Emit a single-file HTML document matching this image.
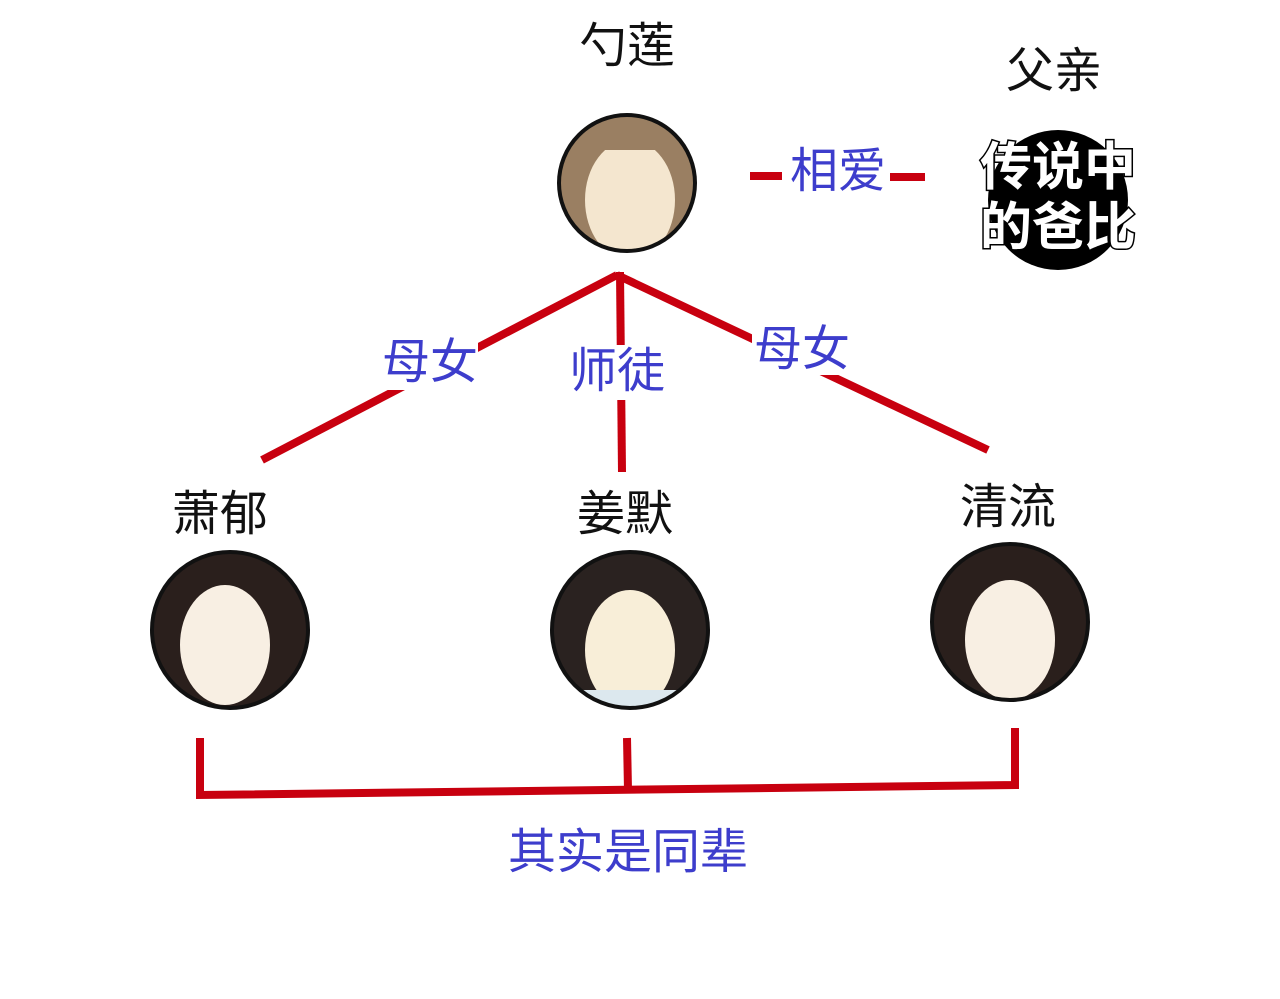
<!DOCTYPE html>
<html><head><meta charset="utf-8"><style>
html,body{margin:0;padding:0;background:#fff;width:1280px;height:999px;overflow:hidden;position:relative;font-family:"Liberation Sans","Noto Sans CJK SC",sans-serif}
.t{position:absolute;white-space:nowrap;transform:translate(-50%,-50%);line-height:1}
.k{color:#111;font-size:48px}
.b{color:#3d3dcc;font-size:48px}
</style></head><body>
<svg width="1280" height="999" style="position:absolute;left:0;top:0">
<g stroke="#c8000f" stroke-width="8" fill="none" stroke-linecap="butt">
<line x1="617" y1="275" x2="262" y2="460"/>
<line x1="620" y1="272" x2="622" y2="472"/>
<line x1="617" y1="275" x2="988" y2="450"/>
<line x1="750" y1="176" x2="782" y2="176"/>
<line x1="890" y1="177" x2="925" y2="177"/>
<polyline points="200,738 200,795 1015,785 1015,728"/>
<line x1="627" y1="738" x2="628" y2="790"/>
</g>
<rect x="790" y="145" width="95" height="60" fill="#fff"/>
<rect x="378" y="340" width="100" height="50" fill="#fff"/>
<rect x="565" y="345" width="105" height="55" fill="#fff"/>
<rect x="752" y="325" width="100" height="50" fill="#fff"/>
<defs>
<clipPath id="c1"><circle cx="627" cy="183" r="68"/></clipPath>
<clipPath id="c2"><circle cx="230" cy="630" r="78"/></clipPath>
<clipPath id="c3"><circle cx="630" cy="630" r="78"/></clipPath>
<clipPath id="c4"><circle cx="1010" cy="622" r="78"/></clipPath>
</defs>
<g clip-path="url(#c1)">
<rect x="550" y="110" width="160" height="150" fill="#9a7f62"/>
<ellipse cx="630" cy="200" rx="45" ry="60" fill="#f4e6cf"/>
<rect x="580" y="110" width="100" height="40" fill="#9a7f62"/>
</g>
<circle cx="627" cy="183" r="68" fill="none" stroke="#111" stroke-width="4"/>
<g clip-path="url(#c2)">
<rect x="150" y="550" width="160" height="160" fill="#2a1f1c"/>
<ellipse cx="225" cy="645" rx="45" ry="60" fill="#f8efe3"/>
</g>
<circle cx="230" cy="630" r="78" fill="none" stroke="#111" stroke-width="4"/>
<g clip-path="url(#c3)">
<rect x="550" y="550" width="160" height="160" fill="#2a2220"/>
<ellipse cx="630" cy="650" rx="45" ry="60" fill="#f8eed8"/>
<rect x="580" y="690" width="100" height="40" fill="#dce8ee"/>
</g>
<circle cx="630" cy="630" r="78" fill="none" stroke="#111" stroke-width="4"/>
<g clip-path="url(#c4)">
<rect x="930" y="540" width="160" height="160" fill="#2a1f1c"/>
<ellipse cx="1010" cy="640" rx="45" ry="60" fill="#f8efe3"/>
</g>
<circle cx="1010" cy="622" r="78" fill="none" stroke="#111" stroke-width="4"/>
<circle cx="1058" cy="200" r="70" fill="#000"/>
<g font-family="Liberation Sans,Noto Sans CJK SC,sans-serif" font-size="52" font-weight="bold" text-anchor="middle" fill="#fff" stroke="#000" stroke-width="3" paint-order="stroke">
<text x="1058" y="185">传说中</text>
<text x="1058" y="245">的爸比</text>
</g>
</svg>
<div class="t k" style="left:627px;top:47px">勺莲</div>
<div class="t k" style="left:1054px;top:72px">父亲</div>
<div class="t b" style="left:838px;top:172px">相爱</div>
<div class="t b" style="left:430px;top:363px">母女</div>
<div class="t b" style="left:617px;top:372px">师徒</div>
<div class="t b" style="left:802px;top:350px">母女</div>
<div class="t k" style="left:220px;top:515px">萧郁</div>
<div class="t k" style="left:625px;top:515px">姜默</div>
<div class="t k" style="left:1008px;top:508px">清流</div>
<div class="t b" style="left:628px;top:853px">其实是同辈</div>
</body></html>
